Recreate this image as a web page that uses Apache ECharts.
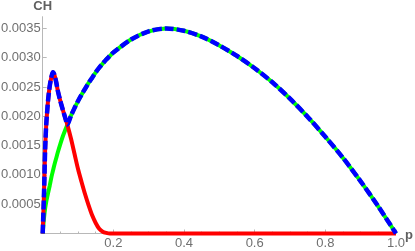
<!DOCTYPE html>
<html>
<head>
<meta charset="utf-8">
<script src="https://cdn.jsdelivr.net/npm/echarts@6/dist/echarts.min.js"></script>
<style>
html,body{margin:0;padding:0;background:#fff;}
#chart{width:415px;height:251px;}
</style>
</head>
<body>
<div id="chart"></div>
<script>
var pValues = [0, 0.004, 0.007, 0.01, 0.013, 0.016, 0.02, 0.025, 0.029, 0.033, 0.038, 0.043, 0.05, 0.057, 0.064, 0.07, 0.08, 0.09, 0.1, 0.11, 0.12, 0.13, 0.14, 0.15, 0.16, 0.17, 0.18, 0.19, 0.2, 0.25, 0.3, 0.35, 0.4, 0.45, 0.5, 0.55, 0.6, 0.65, 0.7, 0.75, 0.8, 0.85, 0.9, 0.95, 1.0];
var greenValues = [0, 0.00028, 0.00043, 0.00054, 0.00063, 0.00071, 0.00082, 0.00097, 0.00107, 0.00117, 0.00128, 0.00139, 0.00153, 0.00166, 0.00177, 0.00186, 0.00201, 0.00214, 0.00226, 0.00237, 0.00247, 0.00257, 0.00266, 0.00275, 0.00283, 0.00290, 0.00297, 0.00303, 0.00309, 0.00331, 0.00345, 0.00350, 0.00346, 0.00336, 0.00321, 0.00303, 0.00282, 0.00258, 0.00230, 0.00199, 0.00165, 0.00129, 0.00089, 0.00046, 0];
var redValues = [0, 0.00075, 0.00145, 0.00186, 0.00211, 0.00232, 0.00252, 0.00268, 0.00275, 0.00271, 0.00259, 0.00243, 0.00226, 0.00211, 0.00197, 0.00185, 0.00162, 0.00136, 0.00110, 0.00088, 0.00067, 0.00048, 0.00031, 0.00018, 0.00008, 0.00003, 0.00001, 0, 0, 0, 0, 0, 0, 0, 0, 0, 0, 0, 0, 0, 0, 0, 0, 0, 0];
var blueValues = [0, 0.00075, 0.00145, 0.00186, 0.00211, 0.00232, 0.00252, 0.00268, 0.00275, 0.00271, 0.00259, 0.00243, 0.00226, 0.00211, 0.00197, 0.00186, 0.00201, 0.00214, 0.00226, 0.00237, 0.00247, 0.00257, 0.00266, 0.00275, 0.00283, 0.00290, 0.00297, 0.00303, 0.00309, 0.00331, 0.00345, 0.00350, 0.00346, 0.00336, 0.00321, 0.00303, 0.00282, 0.00258, 0.00230, 0.00199, 0.00165, 0.00129, 0.00089, 0.00046, 0];
var xTicks = [0.2, 0.4, 0.6, 0.8, 1.0];
var yTicks = [0.0005, 0.0010, 0.0015, 0.0020, 0.0025, 0.0030, 0.0035];

function pairs(vals){ return pValues.map(function(p,i){ return [p, vals[i]]; }); }

var font = "'Liberation Sans', Arial, sans-serif";
var axisCol = '#b8b8b8';
var labelCol = '#707070';

var chart = echarts.init(document.getElementById('chart'), null, {renderer:'canvas'});
chart.setOption({
  animation: false,
  grid: {left: 42.7, right: 19, top: 16.7, bottom: 17.5, containLabel: false, outerBoundsMode: 'none'},
  graphic: [
    {type: 'text', left: 405, top: 229, style: {text: 'p', fontFamily: font, fontSize: 13, fontWeight: 'bold', fill: '#606060'}}
  ],
  xAxis: {
    type: 'value', min: 0, max: 1, interval: 0.2,
    axisLine: {show: true, onZero: false, lineStyle: {color: axisCol, width: 1}},
    axisTick: {show: true, inside: true, length: 4, lineStyle: {color: axisCol}, customValues: xTicks},
    minorTick: {show: true, splitNumber: 4, length: 2, lineStyle: {color: axisCol}},
    splitLine: {show: false},
    axisLabel: {customValues: xTicks, margin: 3, fontFamily: font, fontSize: 13, color: labelCol,
      formatter: function(v){ return v.toFixed(1); }}
  },
  yAxis: {
    type: 'value', min: 0, max: 0.0037, interval: 0.0005,
    name: 'CH', nameLocation: 'end', nameGap: 4,
    nameTextStyle: {fontFamily: font, fontSize: 13, fontWeight: 'bold', color: '#606060', align: 'center', verticalAlign: 'bottom'},
    axisLine: {show: true, onZero: false, lineStyle: {color: axisCol, width: 1}},
    axisTick: {show: true, inside: true, length: 4, lineStyle: {color: axisCol}, customValues: yTicks},
    minorTick: {show: false},
    splitLine: {show: false},
    axisLabel: {customValues: yTicks, margin: 2, fontFamily: font, fontSize: 13, color: labelCol,
      formatter: function(v){ return v.toFixed(4); }}
  },
  series: [
    {type: 'line', name: 'green', data: pairs(greenValues), showSymbol: false, smooth: 0.3, clip: false,
      lineStyle: {color: '#00ff00', width: 4}, z: 2},
    {type: 'line', name: 'red', data: pairs(redValues), showSymbol: false, smooth: 0.3, clip: false,
      lineStyle: {color: '#ff0000', width: 4}, z: 3},
    {type: 'line', name: 'blue', data: pairs(blueValues), showSymbol: false, smooth: 0.3, clip: false,
      lineStyle: {color: '#0000ff', width: 4.5, type: [9, 3], cap: 'butt'}, z: 4}
  ]
});
</script>
</body>
</html>
